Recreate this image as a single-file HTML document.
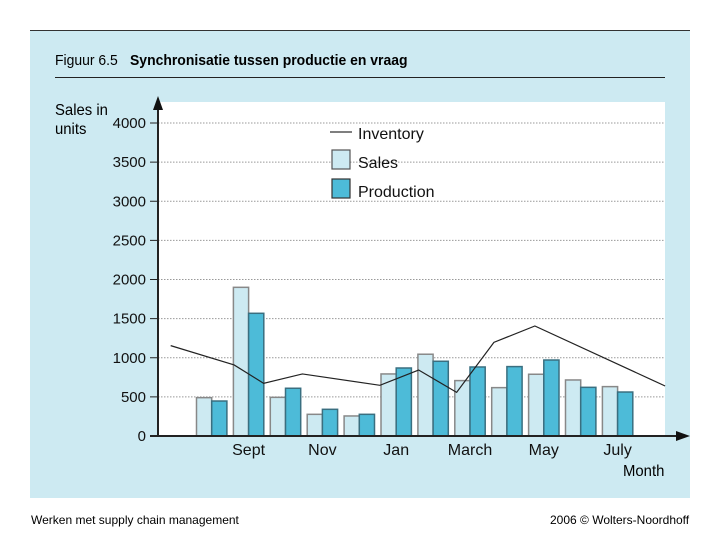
<!DOCTYPE html>
<html><head><meta charset="utf-8"><style>
body{margin:0;width:720px;height:540px;background:#fff;font-family:"Liberation Sans",sans-serif;position:relative;overflow:hidden}
.t{position:absolute;white-space:nowrap}
.sq{transform:scaleX(0.93);transform-origin:left top}
</style></head><body>
<div style="position:absolute;left:30px;top:30px;width:660px;height:467px;background:#cdeaf2;border-top:1px solid #333"></div>
<div class="t sq" style="left:55px;top:52px;font-size:15px">Figuur 6.5</div>
<div class="t sq" style="left:130px;top:52px;font-size:15px;font-weight:bold">Synchronisatie tussen productie en vraag</div>
<div style="position:absolute;left:55px;top:77px;width:610px;height:1px;background:#222"></div>
<div class="t sq" style="left:55px;top:101px;font-size:16px;line-height:19px">Sales in<br>units</div>
<div class="t sq" style="left:623px;top:463px;font-size:16px">Month</div>
<div class="t" style="left:31px;top:513px;font-size:12px">Werken met supply chain management</div>
<div class="t" style="left:550px;top:513px;font-size:12px">2006 © Wolters-Noordhoff</div>
<svg id="c" width="720" height="540" style="position:absolute;left:0;top:0" font-family="Liberation Sans, sans-serif"></svg>
<script>
const months=["Aug","Sept","Oct","Nov","Dec","Jan","Feb","March","April","May","June","July"];
const shownLabels=["","Sept","","Nov","","Jan","","March","","May","","July"];
const sales=[490,1900,494,277,256,793,1045,708,618,789,716,631];
const production=[447,1568,610,341,277,869,955,882,887,971,622,562];
const invPos=[-0.7,1.02,1.82,2.87,4.97,6.02,7.05,8.06,9.17,12.7];
const inventory=[1155,908,673,793,648,843,558,1197,1406,639];
const yTicks=[0,500,1000,1500,2000,2500,3000,3500,4000];
const NS="http://www.w3.org/2000/svg",svg=document.getElementById('c');
const y=v=>436-v*313/4000;
const x=i=>196.5+i*36.9;
const bw=15.2;
function mk(t,a,p){const e=document.createElementNS(NS,t);for(const k in a)e.setAttribute(k,a[k]);(p||svg).appendChild(e);return e;}
const plot=mk('rect',{x:158,y:102,width:507,height:334,fill:'#fff'});


yTicks.forEach(v=>{
  if(v>0){const g=mk('line',{x1:158,x2:665,y1:y(v),y2:y(v),stroke:'#999','stroke-dasharray':'1.5 1.5','stroke-width':1});
  
  }
  const tk=mk('line',{x1:150,x2:158,y1:y(v),y2:y(v),stroke:'#222'});
  
  
  const t=mk('text',{x:146,y:y(v)+5,'text-anchor':'end','font-size':15,fill:'#111'});t.textContent=v;
  
  
});
months.forEach((m,i)=>{
  const s=mk('rect',{x:x(i),y:y(sales[i]),width:bw,height:436-y(sales[i]),fill:'#cdeaf2',stroke:'#888','stroke-width':1.5});
  
  
  const p=mk('rect',{x:x(i)+bw,y:y(production[i]),width:bw,height:436-y(production[i]),fill:'#4dbbd8',stroke:'#3a6f80','stroke-width':1.5});
  
  
  if(shownLabels[i]){const t=mk('text',{x:x(i)+bw,y:455,'text-anchor':'middle','font-size':16,fill:'#111'});t.textContent=shownLabels[i];
  
  }
});
const line=mk('polyline',{points:invPos.map((p,i)=>x(p)+','+y(inventory[i])).join(' '),fill:'none',stroke:'#222','stroke-width':1.2});


const ya=mk('line',{x1:158,x2:158,y1:436,y2:108,stroke:'#222','stroke-width':2});


const yar=mk('polygon',{points:'153,110 158,96 163,110',fill:'#111'});


const xa=mk('line',{x1:150,x2:680,y1:436,y2:436,stroke:'#222','stroke-width':2});


const xar=mk('polygon',{points:'676,431 690,436 676,441',fill:'#111'});


const l1=mk('line',{x1:330,x2:352,y1:132,y2:132,stroke:'#555','stroke-width':1.5});


const l2=mk('rect',{x:332,y:150,width:18,height:19,fill:'#cdeaf2',stroke:'#555','stroke-width':1.2});


const l3=mk('rect',{x:332,y:179,width:18,height:19,fill:'#4dbbd8',stroke:'#333','stroke-width':1.2});


[["Inventory",139],["Sales",168],["Production",197]].forEach(([n,yy])=>{
  const t=mk('text',{x:358,y:yy,'font-size':16,fill:'#111'});t.textContent=n;
  
  
});
</script>
</body></html>
